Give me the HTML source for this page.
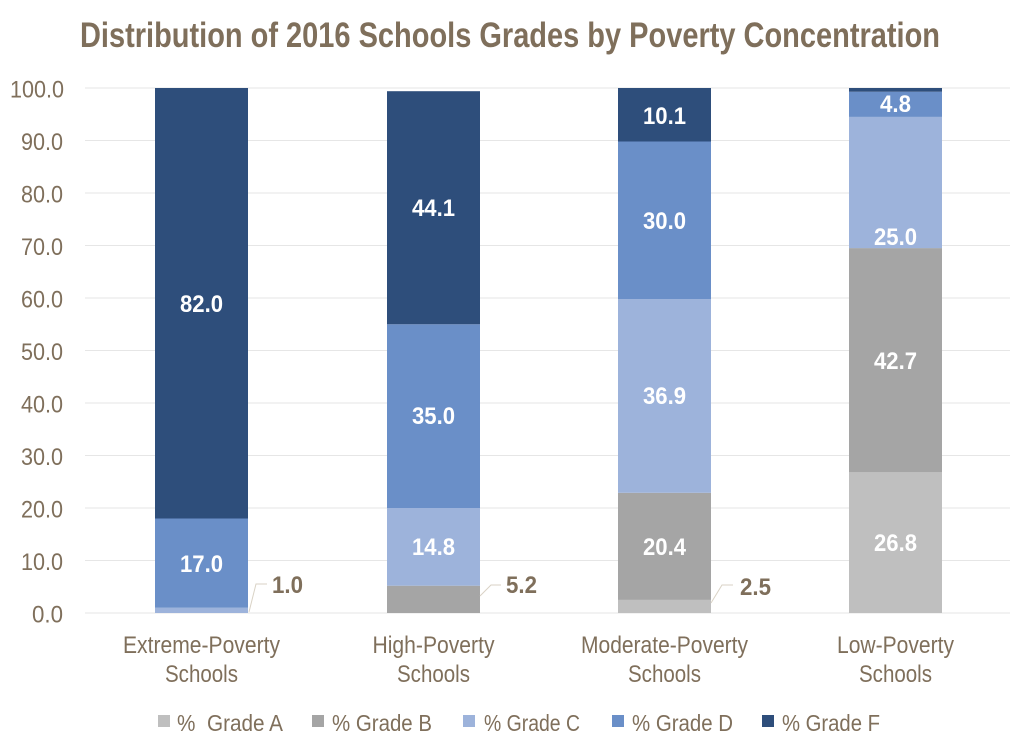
<!DOCTYPE html>
<html><head><meta charset="utf-8"><style>
html,body{margin:0;padding:0;background:#fff;width:1024px;height:751px;overflow:hidden}
svg{display:block}
text{font-family:"Liberation Sans",sans-serif}
</style></head><body>
<svg width="1024" height="751" viewBox="0 0 1024 751" xmlns="http://www.w3.org/2000/svg">
<text x="80" y="47" font-size="35" font-weight="bold" fill="#7f6f5b" textLength="860" lengthAdjust="spacingAndGlyphs">Distribution of 2016 Schools Grades by Poverty Concentration</text>
<g stroke="#e6e6e6" stroke-width="1">
<line x1="85" x2="1010" y1="88" y2="88"/><line x1="85" x2="1010" y1="140.5" y2="140.5"/><line x1="85" x2="1010" y1="193" y2="193"/><line x1="85" x2="1010" y1="245.5" y2="245.5"/><line x1="85" x2="1010" y1="298" y2="298"/><line x1="85" x2="1010" y1="350.5" y2="350.5"/><line x1="85" x2="1010" y1="403" y2="403"/><line x1="85" x2="1010" y1="455.5" y2="455.5"/><line x1="85" x2="1010" y1="508" y2="508"/><line x1="85" x2="1010" y1="560.5" y2="560.5"/><line x1="85" x2="1010" y1="613" y2="613"/>
</g>
<g font-size="24" fill="#7f6f5b" lengthAdjust="spacingAndGlyphs">
<text x="10" y="97.5" textLength="54" lengthAdjust="spacingAndGlyphs">100.0</text>
<text x="21" y="150" textLength="42" lengthAdjust="spacingAndGlyphs">90.0</text>
<text x="21" y="202.5" textLength="42" lengthAdjust="spacingAndGlyphs">80.0</text>
<text x="21" y="255" textLength="42" lengthAdjust="spacingAndGlyphs">70.0</text>
<text x="21" y="307.5" textLength="42" lengthAdjust="spacingAndGlyphs">60.0</text>
<text x="21" y="360" textLength="42" lengthAdjust="spacingAndGlyphs">50.0</text>
<text x="21" y="412.5" textLength="42" lengthAdjust="spacingAndGlyphs">40.0</text>
<text x="21" y="465" textLength="42" lengthAdjust="spacingAndGlyphs">30.0</text>
<text x="21" y="517.5" textLength="42" lengthAdjust="spacingAndGlyphs">20.0</text>
<text x="21" y="570" textLength="42" lengthAdjust="spacingAndGlyphs">10.0</text>
<text x="32" y="622.5" textLength="31" lengthAdjust="spacingAndGlyphs">0.0</text>
</g>
<!-- Extreme -->
<rect x="155" y="607.75" width="93" height="5.25" fill="#9db3db"/>
<rect x="155" y="518.5" width="93" height="89.25" fill="#6a8fc8"/>
<rect x="155" y="88" width="93" height="430.5" fill="#2e4e7b"/>
<!-- High -->
<rect x="387" y="585.7" width="93" height="27.3" fill="#a5a5a5"/>
<rect x="387" y="508" width="93" height="77.7" fill="#9db3db"/>
<rect x="387" y="324.25" width="93" height="183.75" fill="#6a8fc8"/>
<rect x="387" y="91.2" width="93" height="233.05" fill="#2e4e7b"/>
<!-- Moderate -->
<rect x="618" y="599.9" width="93" height="13.1" fill="#bfbfbf"/>
<rect x="618" y="492.8" width="93" height="107.1" fill="#a5a5a5"/>
<rect x="618" y="299" width="93" height="193.8" fill="#9db3db"/>
<rect x="618" y="141.5" width="93" height="157.5" fill="#6a8fc8"/>
<rect x="618" y="88" width="93" height="53.5" fill="#2e4e7b"/>
<!-- Low -->
<rect x="849" y="472.3" width="93" height="140.7" fill="#bfbfbf"/>
<rect x="849" y="248.1" width="93" height="224.2" fill="#a5a5a5"/>
<rect x="849" y="116.9" width="93" height="131.2" fill="#9db3db"/>
<rect x="849" y="91.7" width="93" height="25.2" fill="#6a8fc8"/>
<rect x="849" y="88" width="93" height="3.7" fill="#2e4e7b"/>
<g font-size="24" font-weight="bold" fill="#fff" text-anchor="middle">
<text x="201.5" y="312" textLength="43" lengthAdjust="spacingAndGlyphs">82.0</text>
<text x="201.5" y="572" textLength="43" lengthAdjust="spacingAndGlyphs">17.0</text>
<text x="433.5" y="216" textLength="43" lengthAdjust="spacingAndGlyphs">44.1</text>
<text x="433.5" y="424" textLength="43" lengthAdjust="spacingAndGlyphs">35.0</text>
<text x="433.5" y="555" textLength="43" lengthAdjust="spacingAndGlyphs">14.8</text>
<text x="664.5" y="124" textLength="43" lengthAdjust="spacingAndGlyphs">10.1</text>
<text x="664.5" y="229" textLength="43" lengthAdjust="spacingAndGlyphs">30.0</text>
<text x="664.5" y="404" textLength="43" lengthAdjust="spacingAndGlyphs">36.9</text>
<text x="664.5" y="555" textLength="43" lengthAdjust="spacingAndGlyphs">20.4</text>
<text x="895.5" y="112" textLength="31" lengthAdjust="spacingAndGlyphs">4.8</text>
<text x="895.5" y="245" textLength="43" lengthAdjust="spacingAndGlyphs">25.0</text>
<text x="895.5" y="369" textLength="43" lengthAdjust="spacingAndGlyphs">42.7</text>
<text x="895.5" y="551" textLength="43" lengthAdjust="spacingAndGlyphs">26.8</text>
</g>
<g stroke="#d9d2c5" stroke-width="1" fill="none">
<polyline points="249,612 256,584 267,584"/>
<polyline points="480,596 491,585 501,585"/>
<polyline points="711,603 722,585 733,585"/>
</g>
<g font-size="24" font-weight="bold" fill="#7f6f5b">
<text x="272" y="593" textLength="31" lengthAdjust="spacingAndGlyphs">1.0</text>
<text x="506" y="593" textLength="31" lengthAdjust="spacingAndGlyphs">5.2</text>
<text x="740" y="595" textLength="31" lengthAdjust="spacingAndGlyphs">2.5</text>
</g>
<g font-size="24" fill="#7f6f5b" text-anchor="middle">
<text x="201.5" y="653" textLength="157" lengthAdjust="spacingAndGlyphs">Extreme-Poverty</text>
<text x="201.5" y="682" textLength="73" lengthAdjust="spacingAndGlyphs">Schools</text>
<text x="433.5" y="653" textLength="122" lengthAdjust="spacingAndGlyphs">High-Poverty</text>
<text x="433.5" y="682" textLength="73" lengthAdjust="spacingAndGlyphs">Schools</text>
<text x="664.5" y="653" textLength="167" lengthAdjust="spacingAndGlyphs">Moderate-Poverty</text>
<text x="664.5" y="682" textLength="73" lengthAdjust="spacingAndGlyphs">Schools</text>
<text x="895.5" y="653" textLength="117" lengthAdjust="spacingAndGlyphs">Low-Poverty</text>
<text x="895.5" y="682" textLength="73" lengthAdjust="spacingAndGlyphs">Schools</text>
</g>
<rect x="158" y="715" width="12" height="12" fill="#bfbfbf"/>
<rect x="312" y="715" width="12" height="12" fill="#a5a5a5"/>
<rect x="463" y="715" width="12" height="12" fill="#9db3db"/>
<rect x="612" y="715" width="12" height="12" fill="#6a8fc8"/>
<rect x="762" y="715" width="12" height="12" fill="#2e4e7b"/>
<g font-size="23" fill="#7f6f5b">
<text x="177" y="731" xml:space="preserve" textLength="106" lengthAdjust="spacingAndGlyphs">%  Grade A</text>
<text x="332" y="731" textLength="100" lengthAdjust="spacingAndGlyphs">% Grade B</text>
<text x="484" y="731" textLength="96" lengthAdjust="spacingAndGlyphs">% Grade C</text>
<text x="632" y="731" textLength="101" lengthAdjust="spacingAndGlyphs">% Grade D</text>
<text x="782" y="731" textLength="98" lengthAdjust="spacingAndGlyphs">% Grade F</text>
</g>
</svg>
</body></html>
